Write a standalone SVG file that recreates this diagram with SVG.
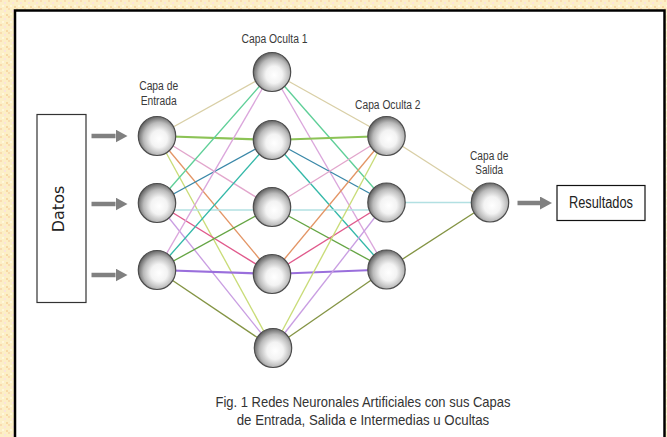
<svg xmlns="http://www.w3.org/2000/svg" width="667" height="437" viewBox="0 0 667 437">
<defs>
<pattern id="tex" width="8" height="8" patternUnits="userSpaceOnUse">
<rect width="8" height="8" fill="#fcefc6"/>
<rect x="0" y="0" width="2" height="2" fill="#f9dcb0"/>
<rect x="4" y="2" width="2" height="2" fill="#fbe3dc"/>
<rect x="2" y="5" width="2" height="2" fill="#fff7dc"/>
<rect x="6" y="6" width="2" height="2" fill="#f7d8a4"/>
</pattern>
<radialGradient id="ball" cx="55%" cy="56%" r="55%" fx="56%" fy="58%">
<stop offset="0" stop-color="#ffffff"/>
<stop offset="0.4" stop-color="#f3f3f3"/>
<stop offset="0.75" stop-color="#bababa"/>
<stop offset="1" stop-color="#6c6c6c"/>
</radialGradient>
<marker id="ah" viewBox="0 0 12 13" refX="0" refY="6.5" markerWidth="12" markerHeight="13" markerUnits="userSpaceOnUse" orient="auto">
<path d="M0,0 L12,6.5 L0,13 Z" fill="#808080"/>
</marker>
</defs>
<style>
.n{fill:url(#ball);stroke:#4d4d4d;stroke-width:1.2}
.lbl{font-family:"Liberation Sans",Arial,sans-serif;font-size:12.5px;fill:#3a3a3a;text-anchor:middle}
.cap{font-family:"Liberation Sans",Arial,sans-serif;font-size:14.5px;fill:#333;text-anchor:middle}
.e{fill:none;stroke-width:1.35}
.w{stroke-width:2.2}
.arr{stroke:#808080;stroke-width:4.5;fill:none}
</style>
<rect x="0" y="0" width="667" height="437" fill="url(#tex)"/>
<rect x="15" y="10.5" width="649.5" height="440" fill="#ffffff" stroke="#000" stroke-width="2.5"/>

<g id="connectors">
<!-- input 1 -->
<line class="e" x1="157" y1="136" x2="272" y2="72" stroke="#d9cfa6"/>
<line class="e w" x1="157" y1="136" x2="272" y2="140" stroke="#8cc356"/>
<line class="e" x1="157" y1="136" x2="272" y2="207" stroke="#e2a6cc"/>
<line class="e" x1="157" y1="136" x2="272" y2="274" stroke="#e39565"/>
<line class="e" x1="157" y1="136" x2="273" y2="348" stroke="#c9dc78"/>
<!-- input 2 -->
<line class="e" x1="157" y1="203" x2="272" y2="72" stroke="#5fcf98"/>
<line class="e" x1="157" y1="203" x2="272" y2="140" stroke="#3a88a8"/>
<line class="e" x1="157" y1="210" x2="272" y2="210" stroke="#b2e0e2"/>
<line class="e" x1="157" y1="203" x2="272" y2="274" stroke="#e05a8c"/>
<line class="e" x1="157" y1="203" x2="273" y2="348" stroke="#c99ee2"/>
<!-- input 3 -->
<line class="e" x1="157" y1="270" x2="272" y2="72" stroke="#dba6dc"/>
<line class="e" x1="157" y1="270" x2="272" y2="140" stroke="#33b8a8"/>
<line class="e" x1="157" y1="270" x2="272" y2="207" stroke="#65a544"/>
<line class="e w" x1="157" y1="270" x2="272" y2="274" stroke="#9a6fdc"/>
<line class="e" x1="157" y1="270" x2="273" y2="348" stroke="#849444"/>
<!-- hidden 1 a -->
<line class="e" x1="272" y1="72" x2="386.5" y2="136" stroke="#d9cfa6"/>
<line class="e" x1="272" y1="72" x2="386.5" y2="202.5" stroke="#5fcf98"/>
<line class="e" x1="272" y1="72" x2="386.5" y2="269.5" stroke="#dba6dc"/>
<!-- hidden 1 b -->
<line class="e w" x1="272" y1="140" x2="386.5" y2="136" stroke="#8cc356"/>
<line class="e" x1="272" y1="140" x2="386.5" y2="202.5" stroke="#3a88a8"/>
<line class="e" x1="272" y1="140" x2="386.5" y2="269.5" stroke="#33b8a8"/>
<!-- hidden 1 c -->
<line class="e" x1="272" y1="207" x2="386.5" y2="136" stroke="#e2a6cc"/>
<line class="e" x1="272" y1="210" x2="386.5" y2="210" stroke="#b2e0e2"/>
<line class="e" x1="272" y1="207" x2="386.5" y2="269.5" stroke="#65a544"/>
<!-- hidden 1 d -->
<line class="e" x1="272" y1="274" x2="386.5" y2="136" stroke="#e39565"/>
<line class="e" x1="272" y1="274" x2="386.5" y2="202.5" stroke="#e05a8c"/>
<line class="e w" x1="272" y1="274" x2="386.5" y2="269.5" stroke="#9a6fdc"/>
<!-- hidden 1 e -->
<line class="e" x1="273" y1="348" x2="386.5" y2="136" stroke="#c9dc78"/>
<line class="e" x1="273" y1="348" x2="386.5" y2="202.5" stroke="#c99ee2"/>
<line class="e" x1="273" y1="348" x2="386.5" y2="269.5" stroke="#849444"/>
<!-- hidden 2 to output -->
<line class="e" x1="386.5" y1="136" x2="490" y2="202.5" stroke="#d9cfa6"/>
<line class="e" x1="386.5" y1="202.5" x2="490" y2="202.5" stroke="#b2e0e2"/>
<line class="e" x1="386.5" y1="269.5" x2="490" y2="202.5" stroke="#849444"/>
<!-- arrows -->
<line class="arr" x1="91.5" y1="136" x2="115.5" y2="136" marker-end="url(#ah)"/>
<line class="arr" x1="91.5" y1="204" x2="115.5" y2="204" marker-end="url(#ah)"/>
<line class="arr" x1="91.5" y1="275" x2="115.5" y2="275" marker-end="url(#ah)"/>
<line class="arr" x1="517.5" y1="203" x2="540" y2="203" marker-end="url(#ah)"/>
</g>

<g id="datos">
<rect x="37" y="114.5" width="49" height="188" fill="#fff" stroke="#333" stroke-width="1.2"/>
<text transform="translate(63.5,209) rotate(-90)" font-family="'DejaVu Sans',Verdana,sans-serif" font-size="16" fill="#222" text-anchor="middle">Datos</text>
</g>

<g id="input-layer">
<ellipse class="n" cx="157" cy="136" rx="18.7" ry="19.5"/>
<ellipse class="n" cx="157" cy="203" rx="18.7" ry="19.5"/>
<ellipse class="n" cx="157" cy="270" rx="18.7" ry="19.5"/>
<text class="lbl" x="158.7" y="90" textLength="39" lengthAdjust="spacingAndGlyphs">Capa de</text>
<text class="lbl" x="158.7" y="105" textLength="36" lengthAdjust="spacingAndGlyphs">Entrada</text>
</g>

<g id="hidden-layer-1">
<ellipse class="n" cx="272" cy="72" rx="18.7" ry="19.5"/>
<ellipse class="n" cx="272" cy="140" rx="18.7" ry="19.5"/>
<ellipse class="n" cx="272" cy="207" rx="18.7" ry="19.5"/>
<ellipse class="n" cx="272" cy="274" rx="18.7" ry="19.5"/>
<ellipse class="n" cx="273" cy="348" rx="18.7" ry="19.5"/>
<text class="lbl" x="274.5" y="42.5" textLength="66" lengthAdjust="spacingAndGlyphs">Capa Oculta 1</text>
</g>

<g id="hidden-layer-2">
<ellipse class="n" cx="386.5" cy="136" rx="18.7" ry="19.5"/>
<ellipse class="n" cx="386.5" cy="202.5" rx="18.7" ry="19.5"/>
<ellipse class="n" cx="386.5" cy="269.5" rx="18.7" ry="19.5"/>
<text class="lbl" x="387.8" y="109" textLength="65.5" lengthAdjust="spacingAndGlyphs">Capa Oculta 2</text>
</g>

<g id="output-layer">
<ellipse class="n" cx="490" cy="202.5" rx="18.7" ry="19.5"/>
<text class="lbl" x="489.2" y="160" textLength="38.3" lengthAdjust="spacingAndGlyphs">Capa de</text>
<text class="lbl" x="489.2" y="174" textLength="27.7" lengthAdjust="spacingAndGlyphs">Salida</text>
</g>

<g id="resultados">
<rect x="557" y="185.5" width="88" height="35" fill="#fff" stroke="#111" stroke-width="1.2"/>
<text x="601" y="207.5" font-family="'Liberation Sans',Arial,sans-serif" font-size="16" fill="#222" text-anchor="middle" textLength="64" lengthAdjust="spacingAndGlyphs">Resultados</text>
</g>

<g id="caption">
<text class="cap" x="363" y="406.5" textLength="295" lengthAdjust="spacingAndGlyphs">Fig. 1 Redes Neuronales Artificiales con sus Capas</text>
<text class="cap" x="363" y="424.5" textLength="252.5" lengthAdjust="spacingAndGlyphs">de Entrada, Salida e Intermedias u Ocultas</text>
</g>
</svg>
